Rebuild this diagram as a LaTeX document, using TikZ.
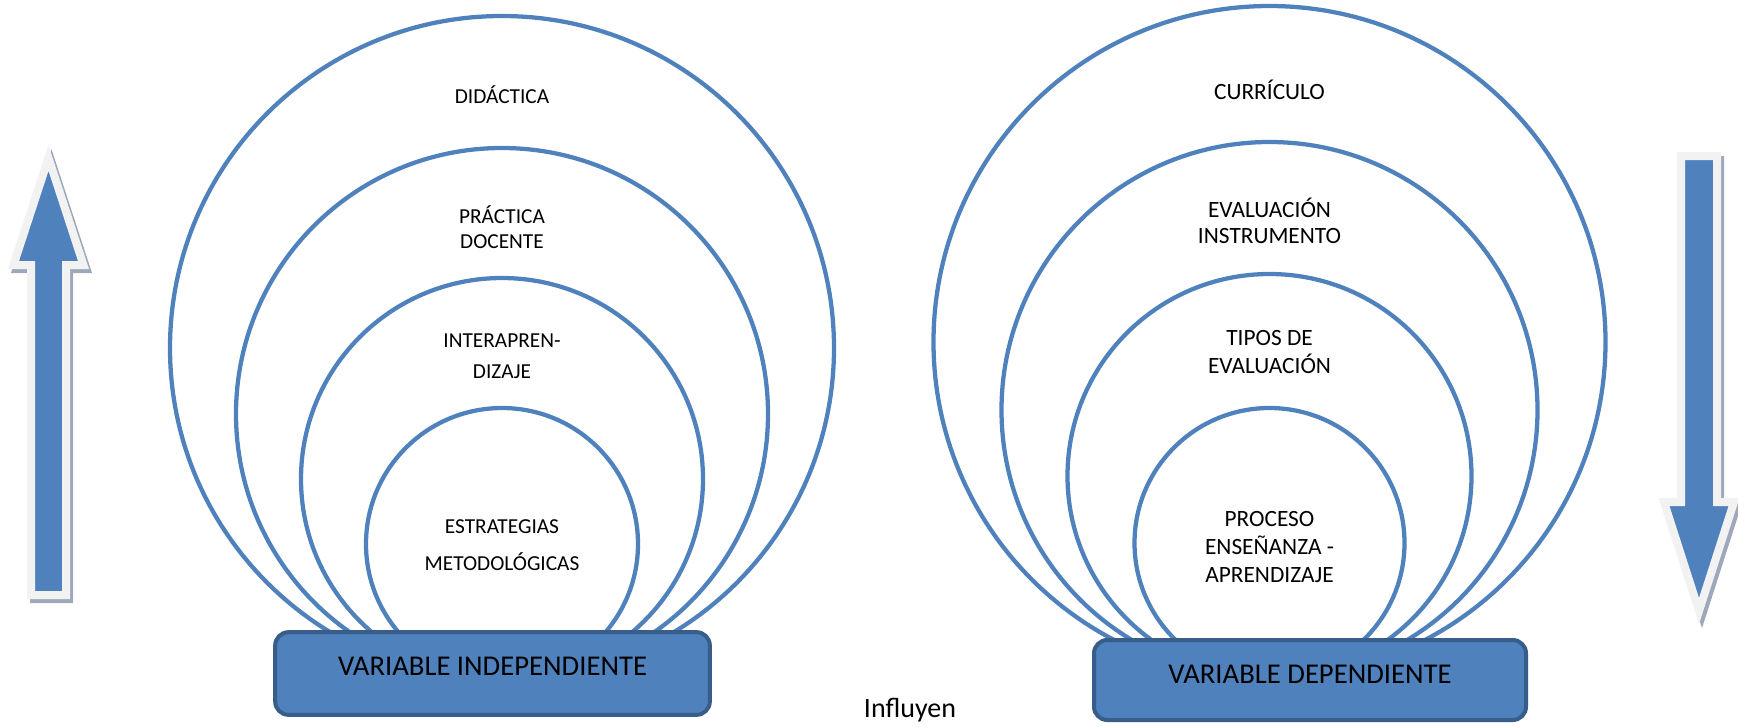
\documentclass[tikz,border=0pt]{standalone}
\usepackage{fontspec}
\setmainfont{Carlito}
\usepackage{tikz}
\usetikzlibrary{positioning}

\definecolor{ofblue}{HTML}{4F81BD}
\definecolor{ofdark}{HTML}{385D8A}
\definecolor{ofrim}{HTML}{F2F2F2}
\definecolor{ofshade}{HTML}{9DA9BA}

\begin{document}
\begin{tikzpicture}[x=0.75pt, y=-0.75pt,
    ring/.style={draw=ofblue, line width=3.2pt},
    lbl/.style={align=center, font=\fontsize{16}{18.3}\selectfont, inner sep=0pt},
    rlbl/.style={align=center, font=\fontsize{17.5}{20}\selectfont, inner sep=0pt},
    varbox/.style={draw=ofdark, fill=ofblue, line width=3pt, rounded corners=10pt,
        font=\fontsize{21.5}{24}\selectfont, text height=13.5pt},
    arrowbody/.style={fill=ofblue, draw=ofrim, line width=6pt},
    arrowshade/.style={fill=ofshade, draw=ofshade, line width=6pt}]
    \useasboundingbox (0,0) rectangle (1738,726);

    % Rings - independent side
    \foreach \r in {332,266,201,136}
        \draw[ring] (502,680-\r) circle[radius=\r];

    % Rings - dependent side
    \foreach \r in {336,268,202,135}
        \draw[ring] (1269.5,678-\r) circle[radius=\r];

    % Ring labels
    \node[lbl, anchor=base] (didac) at (502,103) {DIDÁCTICA};
    \node[lbl] (pract) at (502,227) {PRÁCTICA\\DOCENTE};
    \node[lbl] (inter) at (502,356) {INTERAPREN-\\[5pt]DIZAJE};
    \node[lbl] (estra) at (502,545) {ESTRATEGIAS\\[9pt]METODOLÓGICAS};

    \node[rlbl, anchor=base] (curri) at (1269.5,99.5) {CURRÍCULO};
    \node[rlbl] (evalu) at (1269.5,221) {EVALUACIÓN\\INSTRUMENTO};
    \node[rlbl] (tipos) at (1269.5,352) {TIPOS DE\\[1.6pt]EVALUACIÓN};
    \node[rlbl] (proce) at (1269.5,547) {PROCESO\\[0.8pt]ENSEÑANZA -\\[0.8pt]APRENDIZAJE};

    % Variable boxes
    \node[varbox, minimum width=326pt, minimum height=62pt, text depth=11.25pt]
        (indep) at (492.5,673.5) {VARIABLE INDEPENDIENTE};
    \node[varbox, minimum width=324pt, minimum height=60pt, text depth=9pt]
        (depen) at (1310,680) {VARIABLE DEPENDIENTE};

    \node[font=\fontsize{21}{24}\selectfont, anchor=base, inner sep=0pt] (influ) at (910,717) {Influyen};

    % Up arrow
    \path[arrowshade, shift={(3,4)}] (48.5,158) -- (83.5,265) -- (66,265) -- (66,595)
        -- (31,595) -- (31,265) -- (13.5,265) -- cycle;
    \path[arrowbody] (48.5,158) -- (83.5,265) -- (66,265) -- (66,595)
        -- (31,595) -- (31,265) -- (13.5,265) -- cycle;

    % Down arrow
    \path[arrowshade, shift={(3,4)}] (1681,156) -- (1717,156) -- (1717,502) -- (1734,502)
        -- (1699,611) -- (1664,502) -- (1681,502) -- cycle;
    \path[arrowbody] (1681,156) -- (1717,156) -- (1717,502) -- (1734,502)
        -- (1699,611) -- (1664,502) -- (1681,502) -- cycle;
\end{tikzpicture}
\end{document}
